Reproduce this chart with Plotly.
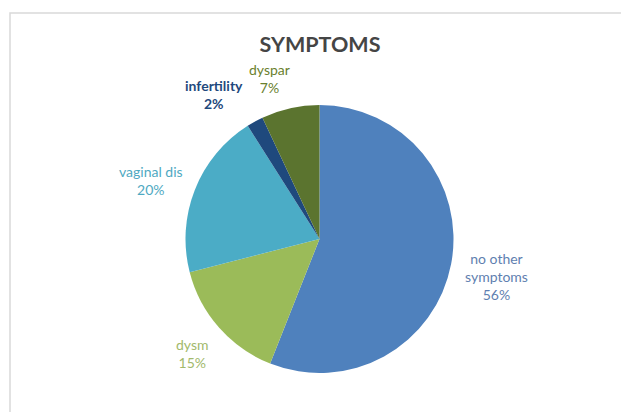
import plotly.graph_objects as go

# Symptom categories and their share of respondents (%)
categories = ["no other symptoms", "dysm", "vaginal dis", "infertility", "dyspar"]
shares = [56, 15, 20, 2, 7]
slice_colors = ["#4F81BD", "#9BBB59", "#4BACC6", "#1F497D", "#5B742F"]
label_colors = ["#5F7FB0", "#A2B96B", "#4FA9C2", "#1F497D", "#6A7F2E"]
label_bold = [False, False, False, True, False]

# Display text for each category (long names wrapped)
display_names = ["no other<br>symptoms", "dysm", "vaginal dis", "infertility", "dyspar"]
# Label anchor positions in pixels (x, y from top)
label_pos = [(496, 276), (192, 353), (151, 180), (214, 94), (269, 78)]

W, H = 621, 412
cx, cy, r = 319.5, 239, 134

fig = go.Figure(
    go.Pie(
        labels=categories,
        values=shares,
        sort=False,
        direction="clockwise",
        rotation=0,
        marker=dict(colors=slice_colors, line=dict(width=0)),
        textinfo="none",
        hoverinfo="label+percent",
        showlegend=False,
        domain=dict(
            x=[(cx - r) / W, (cx + r) / W],
            y=[(H - cy - r) / H, (H - cy + r) / H],
        ),
    )
)

annotations = []
for name, val, col, bold, (px, py) in zip(
    display_names, shares, label_colors, label_bold, label_pos
):
    txt = f"{name}<br>{val}%"
    if bold:
        txt = f"<b>{name}</b><br><b>{val}%</b>"
    annotations.append(
        dict(
            x=px / W,
            y=1 - py / H,
            xref="paper",
            yref="paper",
            text=txt,
            showarrow=False,
            font=dict(family="Lato", size=14, color=col),
            align="center",
            xanchor="center",
            yanchor="middle",
        )
    )

fig.update_layout(
    width=W,
    height=H,
    margin=dict(l=0, r=0, t=0, b=0),
    paper_bgcolor="white",
    plot_bgcolor="white",
    title=dict(
        text="<b>SYMPTOMS</b>",
        x=320 / W,
        xanchor="center",
        y=1 - 44 / H,
        yanchor="middle",
        font=dict(family="Lato", size=21.5, color="#454545"),
    ),
    annotations=annotations,
    shapes=[
        dict(
            type="rect",
            xref="paper",
            yref="paper",
            x0=10 / W,
            x1=1.05,
            y0=-0.05,
            y1=1 - 13 / H,
            line=dict(color="#D9D9D9", width=1.5),
            fillcolor="rgba(0,0,0,0)",
            layer="below",
        )
    ],
)

fig.write_html("out.html")
